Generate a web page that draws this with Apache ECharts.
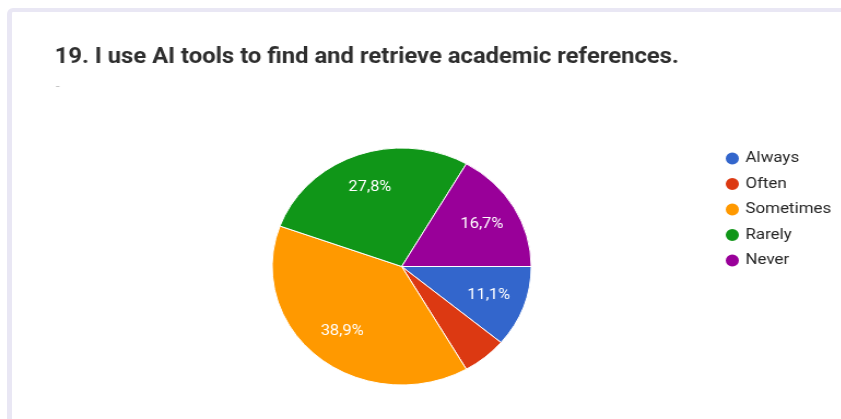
<!DOCTYPE html>
<html>
<head>
<meta charset="utf-8">
<style>
  html, body { margin: 0; padding: 0; background: #ffffff; overflow: hidden; }
  #card {
    position: absolute; left: 7px; top: 8px; width: 840px; height: 420px;
    border-left: 5px solid #e9e7f4; border-top: 4px solid #e9e7f4;
    border-top-left-radius: 6px; box-sizing: border-box; background: #fff;
  }
  /* the chart is laid out in a narrower box and widened to the page width */
  #chart {
    position: absolute; left: 0; top: 0; width: 770px; height: 419px;
    transform: scaleX(1.093); transform-origin: 0 0;
  }
</style>
<script src="https://cdn.jsdelivr.net/npm/echarts@6/dist/echarts.min.js"></script>
</head>
<body>
<div id="card"></div>
<div id="chart"></div>
<script>
// Responses to question 19, share of respondents (%)
const answers = ['Always', 'Often', 'Sometimes', 'Rarely', 'Never'];
const shares = [11.1, 5.6, 38.9, 27.8, 16.7];
const colors = ['#3366cc', '#dc3912', '#ff9900', '#109618', '#990099'];
const title = '19. I use AI tools to find and retrieve academic references.';

const pieData = answers.map((name, i) => ({ name: name, value: shares[i] }));
const center = [367.5, 266.5];
const R = 118.5;

const chart = echarts.init(document.getElementById('chart'), null, { renderer: 'canvas' });
chart.setOption({
  animation: false,
  color: colors,
  title: {
    text: title,
    left: 45, top: 42,
    textStyle: { fontFamily: 'Roboto', fontWeight: 700, fontSize: 21.8, color: '#2e2e2e' }
  },
  graphic: [{
    type: 'text', left: 51, top: 80,
    style: { text: '-', fill: '#c4c4c4', font: '13px Roboto' }
  }],
  legend: {
    orient: 'vertical',
    left: 657, top: 145.5,
    icon: 'circle',
    itemWidth: 14, itemHeight: 14, itemGap: 9.5,
    textStyle: { fontFamily: 'Roboto', fontSize: 15.5, color: '#262626', padding: [0, 0, 0, 0] },
    data: answers
  },
  series: [
    {
      type: 'pie',
      center: center,
      radius: [0, R],
      startAngle: 0,
      clockwise: true,
      avoidLabelOverlap: false,
      label: { show: false },
      labelLine: { show: false },
      itemStyle: { borderColor: '#ffffff', borderWidth: 1 },
      emphasis: { disabled: true },
      data: pieData
    },
    {
      // transparent ring that places the percentage labels at ~0.69 of the radius
      type: 'pie',
      center: center,
      radius: [R * 0.38, R],
      startAngle: 0,
      clockwise: true,
      silent: true,
      avoidLabelOverlap: false,
      itemStyle: { color: 'rgba(0,0,0,0)', borderWidth: 0 },
      emphasis: { disabled: true },
      label: {
        show: true,
        position: 'inside',
        color: '#ffffff',
        fontFamily: 'Roboto',
        fontSize: 15,
        formatter: p => p.value < 8 ? '' : p.value.toFixed(1).replace('.', ',') + '%'
      },
      labelLine: { show: false },
      data: pieData
    }
  ]
});
</script>
</body>
</html>
